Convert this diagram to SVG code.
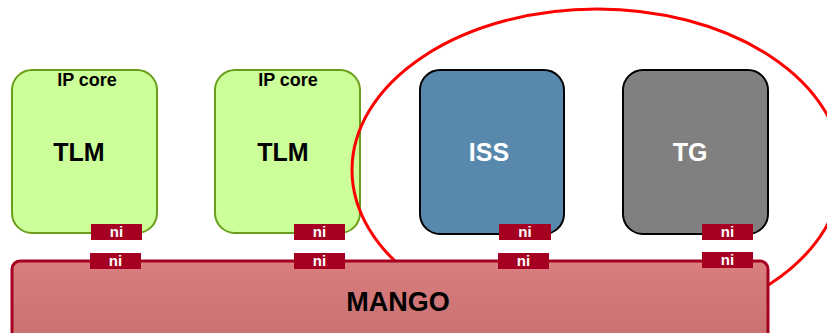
<svg xmlns="http://www.w3.org/2000/svg" width="827" height="333" viewBox="0 0 827 333">
  <defs>
    <linearGradient id="mangoFill" x1="0" y1="0" x2="0" y2="1">
      <stop offset="0" stop-color="#da7e7e"/>
      <stop offset="1" stop-color="#c56e6e"/>
    </linearGradient>
    <style>
      text { font-family: "Liberation Sans", Arial, sans-serif; font-weight: bold; text-anchor: middle; }
      .tlm { fill: #ccff99; stroke: #6a9e1a; stroke-width: 2; }
      .dark { stroke: #000; stroke-width: 2; }
      .ni rect { fill: #a50021; }
      .ni text { fill: #fff; font-size: 15px; }
      .big { font-size: 25px; }
      .small { font-size: 18px; }
    </style>
  </defs>

  <rect width="827" height="333" fill="#fff"/>

  <!-- IP core nodes -->
  <g id="ipcore1">
    <rect class="tlm" x="12" y="70" width="145" height="163" rx="20"/>
    <text class="small" x="87" y="86">IP core</text>
    <text class="big" x="79" y="161">TLM</text>
  </g>
  <g id="ipcore2">
    <rect class="tlm" x="215" y="70" width="145" height="163" rx="20"/>
    <text class="small" x="288" y="86">IP core</text>
    <text class="big" x="283" y="161">TLM</text>
  </g>
  <g id="iss">
    <rect class="dark" x="420" y="70" width="144" height="164" rx="20" fill="#5889ad"/>
    <text class="big" x="489" y="161" fill="#fff">ISS</text>
  </g>
  <g id="tg">
    <rect class="dark" x="623" y="70" width="145" height="164" rx="20" fill="#808080"/>
    <text class="big" x="690" y="161" fill="#fff">TG</text>
  </g>

  <!-- highlight around ISS and TG -->
  <ellipse id="highlight" cx="597" cy="170" rx="245" ry="161" fill="none" stroke="#ff0000" stroke-width="3"/>

  <!-- MANGO network -->
  <g id="mango">
    <rect x="12" y="261" width="756" height="90" rx="8" fill="url(#mangoFill)" stroke="#a50021" stroke-width="3"/>
    <text x="398" y="311" font-size="27" fill="#000">MANGO</text>
  </g>

  <!-- network interfaces: node side -->
  <g id="ni-node-1" class="ni"><rect x="91" y="224" width="51" height="16"/><text x="116.5" y="237">ni</text></g>
  <g id="ni-node-2" class="ni"><rect x="294" y="224" width="51" height="16"/><text x="319.5" y="237">ni</text></g>
  <g id="ni-node-3" class="ni"><rect x="499" y="224" width="52" height="16"/><text x="525" y="237">ni</text></g>
  <g id="ni-node-4" class="ni"><rect x="702" y="224" width="51" height="16"/><text x="727.5" y="237">ni</text></g>

  <!-- network interfaces: network side -->
  <g id="ni-net-1" class="ni"><rect x="90" y="253" width="51" height="16"/><text x="115.5" y="266">ni</text></g>
  <g id="ni-net-2" class="ni"><rect x="294" y="253" width="51" height="16"/><text x="319.5" y="266">ni</text></g>
  <g id="ni-net-3" class="ni"><rect x="498" y="253" width="51" height="16"/><text x="523.5" y="266">ni</text></g>
  <g id="ni-net-4" class="ni"><rect x="702" y="252" width="51" height="16"/><text x="727.5" y="265">ni</text></g>
</svg>
